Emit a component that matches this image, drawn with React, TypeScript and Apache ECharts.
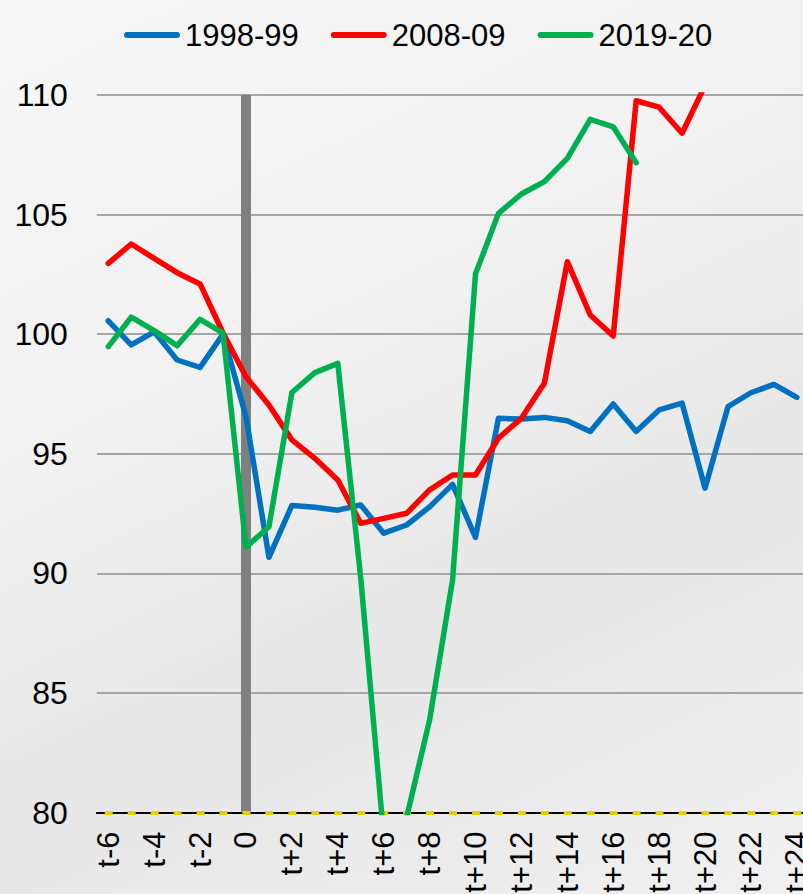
import React, { useEffect, useRef } from "react";
import * as echarts from "echarts";

const categories = [
  "t-6", "t-5", "t-4", "t-3", "t-2", "t-1", "0",
  "t+1", "t+2", "t+3", "t+4", "t+5", "t+6", "t+7", "t+8", "t+9", "t+10",
  "t+11", "t+12", "t+13", "t+14", "t+15", "t+16", "t+17", "t+18", "t+19", "t+20",
  "t+21", "t+22", "t+23", "t+24",
];

const series1998 = [
  100.56, 99.55, 100.1, 98.92, 98.61, 100.0, 96.55,
  90.67, 92.84, 92.76, 92.64, 92.86, 91.68, 92.02, 92.78, 93.72, 91.5,
  96.48, 96.45, 96.52, 96.38, 95.93, 97.08, 95.93, 96.83, 97.12, 93.56,
  96.97, 97.55, 97.9, 97.36,
];

const series2008 = [
  102.96, 103.77, 103.17, 102.57, 102.1, 100.05, 98.22,
  97.04, 95.58, 94.81, 93.9, 92.09, 92.3, 92.51, 93.49, 94.11, 94.11,
  95.65, 96.48, 97.95, 103.03, 100.8, 99.92, 109.76, 109.49, 108.4, 110.4,
];

const series2019 = [
  99.48, 100.71, 100.15, 99.52, 100.62, 100.04, 91.09,
  91.95, 97.56, 98.39, 98.78, 89.8, 79.0, 79.8, 83.87, 89.72, 102.52,
  105.05, 105.86, 106.38, 107.35, 108.98, 108.67, 107.17,
];

const seriesNames = ["1998-99", "2008-09", "2019-20"];
const seriesColors = ["#0070C0", "#FF0000", "#00B050"];
const yTicks = { min: 80, max: 110, interval: 5 };
const markerCategory = "0";
const baselineValue = 80;

const FONT = "'Liberation Sans', Arial, sans-serif";

export default function App() {
  const ref = useRef<HTMLDivElement>(null);

  useEffect(() => {
    if (!ref.current) return;
    const chart = echarts.init(ref.current, undefined, { renderer: "svg" });
    const zeroIdx = categories.indexOf(markerCategory);
    const datasets = [series1998, series2008, series2019];

    const option: any = {
      animation: false,
      backgroundColor: "transparent",
      legend: {
        data: seriesNames,
        left: 119,
        top: 10,
        itemWidth: 56,
        itemHeight: 6,
        itemGap: 32,
        icon: "path://M3,0H53A3,3,0,0,1,53,6H3A3,3,0,0,1,3,0Z",
        textStyle: {
          fontFamily: FONT,
          fontSize: 31,
          color: "#000",
          lineHeight: 40,
        },
      },
      grid: {
        left: 96.8,
        width: 711.5,
        top: 95,
        bottom: 81.5,
        containLabel: false,
        outerBoundsMode: "none",
      },
      xAxis: {
        type: "category",
        data: categories,
        boundaryGap: true,
        axisLine: { show: true, lineStyle: { color: "#000", width: 2 } },
        axisTick: { show: false },
        axisLabel: {
          interval: 1,
          rotate: 90,
          margin: 19,
          fontSize: 31,
          fontFamily: FONT,
          color: "#000",
        },
        splitLine: { show: false },
      },
      yAxis: {
        type: "value",
        min: yTicks.min,
        max: yTicks.max,
        interval: yTicks.interval,
        axisLine: { show: false },
        axisTick: { show: false },
        axisLabel: {
          margin: 29,
          fontSize: 32,
          fontFamily: FONT,
          color: "#000",
        },
        splitLine: { show: true, lineStyle: { color: "#A6A6A6", width: 2 } },
      },
      series: seriesNames.map((name, i) => {
        const s: any = {
          name,
          type: "line",
          data: datasets[i],
          showSymbol: false,
          symbol: "none",
          z: 2,
          lineStyle: {
            color: seriesColors[i],
            width: 5.5,
            cap: "round",
            join: "round",
          },
          itemStyle: { color: seriesColors[i] },
        };
        if (i === 0) {
          s.markLine = {
            silent: true,
            z: 1,
            symbol: ["none", "none"],
            label: { show: false },
            data: [
              {
                xAxis: zeroIdx,
                lineStyle: { color: "#808080", width: 10, type: "solid" },
              },
              {
                yAxis: baselineValue,
                lineStyle: {
                  color: "#E8D000",
                  width: 4,
                  type: [8, 14.95],
                  dashOffset: 15.45,
                },
              },
            ],
          };
        }
        return s;
      }),
    };

    chart.setOption(option);
    return () => chart.dispose();
  }, []);

  return (
    <div
      style={{
        position: "absolute",
        left: 0,
        top: 0,
        width: 803,
        height: 894,
        background:
          "linear-gradient(155deg, #f6f6f6 0%, #f2f2f2 35%, #e7e7e7 65%, #ececec 85%, #f1f1f1 100%)",
      }}
    >
      <div ref={ref} style={{ width: 803, height: 894 }} />
    </div>
  );
}
